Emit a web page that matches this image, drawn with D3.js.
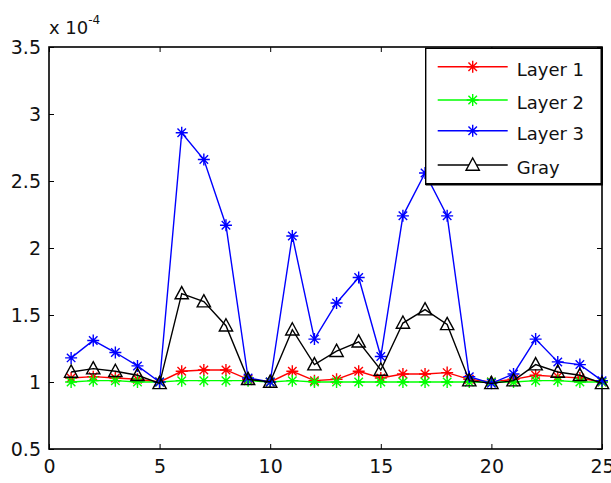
<!DOCTYPE html>
<html>
<head>
<meta charset="utf-8">
<script src="https://cdn.jsdelivr.net/npm/d3@7"></script>
<style>
  body { margin: 0; background: #fff; }
  svg { display: block; font-family: "DejaVu Sans", sans-serif; }
</style>
</head>
<body>
<svg id="chart" width="611" height="483"></svg>
<script>
// values are in units of 1e-4
var xs = d3.range(1, 26);
var layer1 = [1.03, 1.04, 1.03, 1.02, 1.00, 1.08, 1.09, 1.09, 1.02, 1.00, 1.08, 1.01, 1.02, 1.08, 1.03,
              1.06, 1.06, 1.07, 1.02, 1.00, 1.02, 1.05, 1.04, 1.03, 1.00];
var layer2 = [1.00, 1.01, 1.01, 1.00, 1.00, 1.01, 1.01, 1.01, 1.01, 1.00, 1.01, 1.00, 1.00, 1.00, 1.00,
              1.00, 1.00, 1.00, 1.00, 1.00, 1.00, 1.01, 1.01, 1.00, 1.00];
var layer3 = [1.18, 1.31, 1.22, 1.12, 1.00, 2.86, 2.66, 2.17, 1.03, 1.00, 2.09, 1.32, 1.59, 1.78, 1.19,
              2.24, 2.56, 2.24, 1.04, 0.99, 1.06, 1.32, 1.15, 1.13, 1.01];
var grayv = [1.075, 1.10, 1.08, 1.05, 0.99, 1.66, 1.60, 1.42, 1.02, 1.00, 1.39, 1.13, 1.23, 1.30, 1.09,
             1.44, 1.54, 1.43, 1.01, 0.99, 1.01, 1.13, 1.075, 1.05, 0.99];
var series_names = ['Layer 1', 'Layer 2', 'Layer 3', 'Gray'];
var series_colors = ['#ff0000', '#00ff00', '#0000ff', '#000000'];
var x_ticks = [0, 5, 10, 15, 20, 25];
var y_ticks = [0.5, 1, 1.5, 2, 2.5, 3, 3.5];

var svg = d3.select('#chart');
var margin = { top: 47, bottom: 34, left: 49, right: 9 };
var inner_width = 611 - margin.left - margin.right;
var inner_height = 483 - margin.top - margin.bottom;

var x_scale = d3.scaleLinear().domain([0, 25]).range([0, inner_width]);
var y_scale = d3.scaleLinear().domain([0.5, 3.5]).range([inner_height, 0]);

var g = svg.append('g')
     .attr('transform', 'translate(' + margin.left + ',' + margin.top + ')');

function styleAxis(sel) {
     sel.select('.domain').remove();
     sel.selectAll('line').attr('stroke', '#000').attr('stroke-width', 1);
     sel.selectAll('text').attr('fill', '#111').style('font-size', '19px')
          .style('font-family', '"DejaVu Sans", sans-serif');
}

g.append('g')
     .attr('transform', 'translate(0,' + inner_height + ')')
     .call(d3.axisBottom(x_scale).tickValues(x_ticks).tickSize(-5).tickPadding(11).tickFormat(d3.format('d')))
     .call(styleAxis);
g.append('g')
     .call(d3.axisTop(x_scale).tickValues(x_ticks).tickSize(-5).tickFormat(''))
     .call(styleAxis);
g.append('g')
     .call(d3.axisLeft(y_scale).tickValues(y_ticks).tickSize(-5).tickPadding(8).tickFormat(d3.format('')))
     .call(styleAxis);
g.append('g')
     .attr('transform', 'translate(' + inner_width + ',0)')
     .call(d3.axisRight(y_scale).tickValues(y_ticks).tickSize(-5).tickFormat(''))
     .call(styleAxis);

// axes box
g.append('rect')
     .attr('x', 0).attr('y', 0)
     .attr('width', inner_width).attr('height', inner_height)
     .attr('fill', 'none').attr('stroke', '#000').attr('stroke-width', 1.6);

// exponent label
var expo = g.append('text')
     .attr('x', 0).attr('y', -13)
     .attr('fill', '#111')
     .style('font-size', '18px')
     .text('x 10');
expo.append('tspan')
     .attr('dy', -10)
     .style('font-size', '12px')
     .text('-4');

function starPath(s) {
     var d = s * 0.7071;
     return 'M' + (-s) + ',0L' + s + ',0M0,' + (-s) + 'L0,' + s +
          'M' + (-d) + ',' + (-d) + 'L' + d + ',' + d + 'M' + (-d) + ',' + d + 'L' + d + ',' + (-d);
}
function triPath(s) {
     return 'M0,' + (-s) + 'L' + (s * 0.95) + ',' + (s * 0.75) + 'L' + (-s * 0.95) + ',' + (s * 0.75) + 'Z';
}

var all_series = [layer1, layer2, layer3, grayv];
var line = d3.line().x((d, i) => x_scale(xs[i])).y(d => y_scale(d));

all_series.forEach(function (vals, k) {
     var color = series_colors[k];
     var sg = g.append('g');
     sg.append('path')
          .attr('d', line(vals))
          .attr('fill', 'none')
          .attr('stroke', color)
          .attr('stroke-width', 1.4);
     sg.selectAll('path.marker')
          .data(vals)
          .enter()
          .append('path')
          .attr('class', 'marker')
          .attr('transform', (d, i) => 'translate(' + x_scale(xs[i]) + ',' + y_scale(d) + ')')
          .attr('d', k < 3 ? starPath(6) : triPath(7))
          .attr('fill', 'none')
          .attr('stroke', color)
          .attr('stroke-width', 1.4);
});

// legend
var lx = 425.7 - margin.left, ly = 48.3 - margin.top;
var lw = 176, lh = 136;
var legend = g.append('g').attr('class', 'legend');
legend.append('rect')
     .attr('x', lx).attr('y', ly).attr('width', lw).attr('height', lh)
     .attr('fill', '#fff').attr('stroke', '#000').attr('stroke-width', 1.4);
legend.append('path')
     .attr('d', 'M' + (lx + lw) + ',' + ly + 'V' + (ly + lh) + 'H' + lx)
     .attr('fill', 'none').attr('stroke', '#000').attr('stroke-width', 2.4);
var row_y = [18.4, 51.7, 82.4, 116.7];
series_names.forEach(function (name, k) {
     var ry = ly + row_y[k];
     legend.append('line')
          .attr('x1', lx + 12).attr('x2', lx + 82)
          .attr('y1', ry).attr('y2', ry)
          .attr('stroke', series_colors[k]).attr('stroke-width', 1.4);
     legend.append('path')
          .attr('transform', 'translate(' + (lx + 47) + ',' + ry + ')')
          .attr('d', k < 3 ? starPath(6) : triPath(7))
          .attr('fill', k < 3 ? 'none' : '#fff')
          .attr('stroke', series_colors[k])
          .attr('stroke-width', 1.4);
     legend.append('text')
          .attr('x', lx + 91).attr('y', ry + 9)
          .attr('fill', '#111')
          .style('font-size', '18px')
          .text(name);
});
</script>
</body>
</html>
